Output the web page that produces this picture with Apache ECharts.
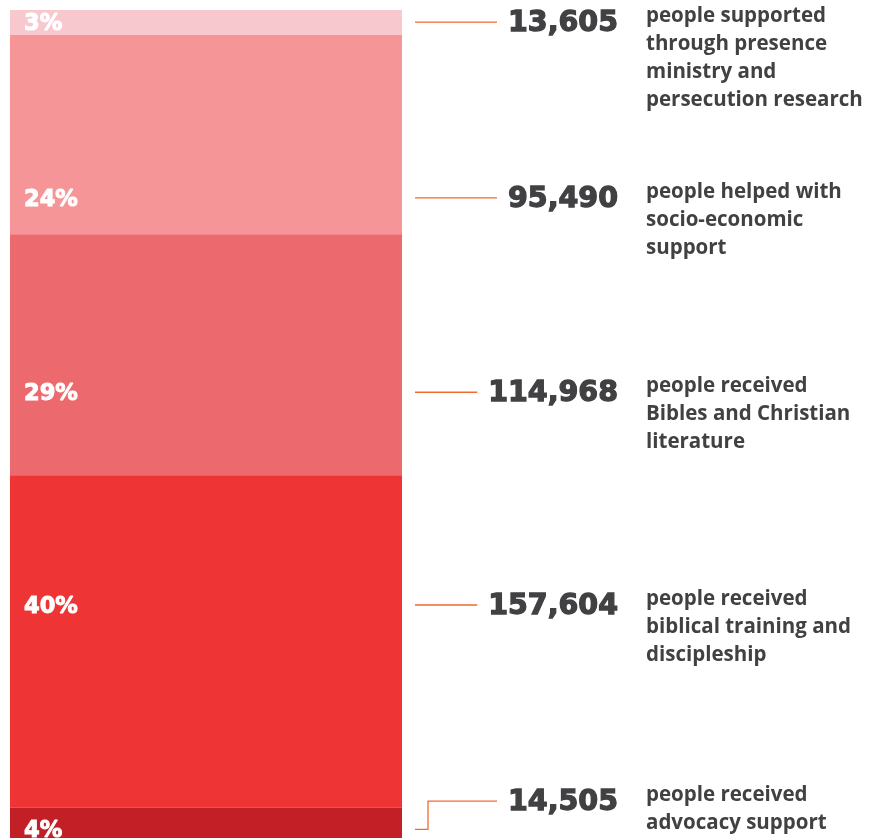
<!DOCTYPE html>
<html><head><meta charset="utf-8">
<script src="https://cdn.jsdelivr.net/npm/echarts@6/dist/echarts.min.js"></script>
<style>html,body{margin:0;padding:0;background:#fff;overflow:hidden}#c{width:869px;height:838px}</style>
</head><body><div id="c"></div>
<script>
const categories = ['Presence ministry & persecution research','Socio-economic support','Bibles & Christian literature','Biblical training & discipleship','Advocacy support'];
const percents = [3, 24, 29, 40, 4];
const peopleCounts = [13605, 95490, 114968, 157604, 14505];
const percentLabels = ['3%', '24%', '29%', '40%', '4%'];
const countLabels = ['13,605', '95,490', '114,968', '157,604', '14,505'];
const descriptions = [
  ['people supported', 'through presence', 'ministry and', 'persecution research'],
  ['people helped with', 'socio-economic', 'support'],
  ['people received', 'Bibles and Christian', 'literature'],
  ['people received', 'biblical training and', 'discipleship'],
  ['people received', 'advocacy support']
];

// styling / layout (not data)
const colors = ['#F8C8CF', '#F59597', '#EC6A6E', '#EE3435', '#C21F27'];
const labelAt = [1.45, 22.6, 46.0, 71.6, 98.6];   // anchor of the % label, in axis units
const leaderAt = [1.45, 22.6, 46.0, 71.6, 95.2];  // anchor of the leader / count, in axis units
const TEXT = '#414042', LINE = '#F26A2E';
const numFont = 'bold 28.5px "DejaVu Sans"';
const pctFont = 'bold 22.5px "DejaVu Sans"';
const descFont = 'bold 20.5px "Open Sans"';

const mctx = document.createElement('canvas').getContext('2d');
function textW(t, f) { mctx.font = f; return mctx.measureText(t).width; }

const chart = echarts.init(document.getElementById('c'), null, {renderer: 'canvas'});
const barSeries = percents.map((p, i) => ({
  name: categories[i], type: 'bar', stack: 'total', barWidth: '100%', silent: true,
  data: [p], itemStyle: {color: colors[i]}
}));

const annot = {
  type: 'custom', coordinateSystem: 'cartesian2d', clip: false, silent: true, z: 10,
  encode: {x: 0, y: 1},
  data: percents.map((p, i) => [0, labelAt[i], leaderAt[i]]),
  renderItem: function (params, api) {
    const i = params.dataIndex;
    const band = api.size([1, 0])[0];
    const pLab = api.coord([0, api.value(1)]);
    const pLead = api.coord([0, api.value(2)]);
    const left = pLab[0] - band / 2;
    const right = pLab[0] + band / 2;
    const lineStart = right + 13;
    const numRight = right + 216;
    const descLeft = right + 244;
    const nw = textW(countLabels[i], numFont);
    const lineEnd = numRight - nw - 11;
    let pts;
    if (Math.abs(pLab[1] - pLead[1]) > 1) {
      const kx = lineStart + 13;
      pts = [[lineStart, pLab[1]], [kx, pLab[1]], [kx, pLead[1]], [lineEnd, pLead[1]]];
    } else {
      pts = [[lineStart, pLead[1]], [lineEnd, pLead[1]]];
    }
    return {
      type: 'group',
      children: [
        {type: 'text', style: {x: left + 14, y: pLab[1] + 2, text: percentLabels[i], fill: '#fff', stroke: '#fff', lineWidth: 1, font: pctFont, align: 'left', verticalAlign: 'middle'}},
        {type: 'polyline', shape: {points: pts}, style: {stroke: LINE, lineWidth: 1.3, fill: null}},
        {type: 'text', style: {x: numRight, y: pLead[1] + 1.5, text: countLabels[i], fill: TEXT, stroke: TEXT, lineWidth: 1.3, font: numFont, align: 'right', verticalAlign: 'middle'}},
        {type: 'text', style: {x: descLeft, y: pLead[1] - 20, text: descriptions[i].join('\n'), fill: TEXT, font: descFont, lineHeight: 28, align: 'left', verticalAlign: 'top'}}
      ]
    };
  }
};

chart.setOption({
  animation: false,
  grid: {left: 10, top: 10, width: 392, bottom: 0, containLabel: false},
  xAxis: {type: 'category', data: ['total'], show: false},
  yAxis: {type: 'value', inverse: true, min: 0, max: 99.64, show: false},
  series: barSeries.concat([annot])
});
</script></body></html>
